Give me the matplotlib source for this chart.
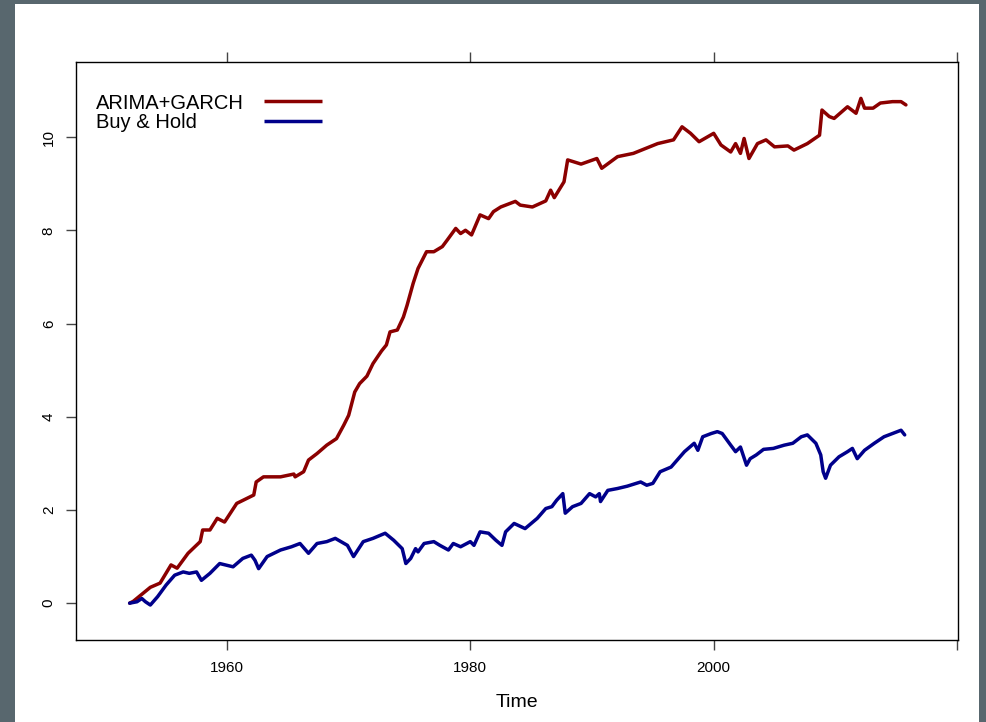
import matplotlib
matplotlib.use("Agg")
import matplotlib.pyplot as plt
from matplotlib.patches import Rectangle

plt.rcParams['font.family'] = ['Liberation Sans', 'DejaVu Sans']

# ARIMA+GARCH cumulative log return
garch_t = [1952.0, 1952.3, 1953.7, 1954.5, 1955.4, 1955.9, 1956.8, 1957.8, 1958.0, 1958.6,
           1959.2, 1959.8, 1960.8, 1962.2, 1962.4, 1963.0, 1964.4, 1965.5, 1965.6, 1966.3,
           1966.7, 1967.4, 1968.2, 1969.0, 1969.6, 1970.0, 1970.5, 1970.9, 1971.5, 1972.0,
           1972.7, 1973.1, 1973.4, 1974.0, 1974.5, 1974.8, 1975.3, 1975.7, 1976.4, 1977.0,
           1977.7, 1978.1, 1978.8, 1979.2, 1979.6, 1980.1, 1980.8, 1981.5, 1981.9, 1982.5,
           1983.7, 1984.1, 1985.1, 1986.2, 1986.6, 1986.9, 1987.7, 1988.0, 1989.1, 1990.4,
           1990.8, 1992.1, 1993.4, 1995.4, 1996.7, 1997.4, 1998.1, 1998.8, 2000.0, 2000.6,
           2001.4, 2001.8, 2002.2, 2002.5, 2002.9, 2003.6, 2004.3, 2005.0, 2006.1, 2006.6,
           2007.7, 2008.7, 2008.9, 2009.5, 2009.9, 2011.0, 2011.7, 2012.1, 2012.4, 2013.1,
           2013.7, 2014.7, 2015.4, 2015.8]
garch_v = [0.00, 0.04, 0.34, 0.43, 0.82, 0.75, 1.07, 1.32, 1.57, 1.57,
           1.82, 1.74, 2.14, 2.32, 2.60, 2.71, 2.71, 2.77, 2.71, 2.82,
           3.07, 3.21, 3.39, 3.53, 3.82, 4.03, 4.53, 4.71, 4.87, 5.14,
           5.41, 5.54, 5.82, 5.86, 6.14, 6.39, 6.86, 7.18, 7.54, 7.54,
           7.65, 7.79, 8.04, 7.93, 8.00, 7.90, 8.33, 8.25, 8.40, 8.50,
           8.62, 8.54, 8.50, 8.63, 8.86, 8.70, 9.04, 9.51, 9.42, 9.54,
           9.33, 9.58, 9.65, 9.86, 9.94, 10.22, 10.08, 9.90, 10.08, 9.83,
           9.68, 9.86, 9.65, 9.97, 9.54, 9.86, 9.94, 9.79, 9.81, 9.72,
           9.86, 10.04, 10.58, 10.44, 10.40, 10.65, 10.51, 10.83, 10.62, 10.62,
           10.73, 10.76, 10.76, 10.69]

# Buy & Hold cumulative log return
bh_t = [1952.0, 1952.6, 1953.0, 1953.3, 1953.7, 1954.3, 1955.0, 1955.7, 1956.4, 1956.9,
        1957.5, 1957.9, 1958.6, 1959.4, 1960.5, 1961.3, 1962.0, 1962.3, 1962.6, 1963.3,
        1964.4, 1965.3, 1966.0, 1966.7, 1967.4, 1968.2, 1968.9, 1969.9, 1970.4, 1971.2,
        1972.0, 1973.0, 1973.7, 1974.4, 1974.7, 1975.1, 1975.5, 1975.7, 1976.2, 1977.0,
        1977.5, 1978.2, 1978.6, 1979.2, 1980.0, 1980.3, 1980.8, 1981.5, 1982.1, 1982.6,
        1982.9, 1983.6, 1984.5, 1985.5, 1986.2, 1986.7, 1987.1, 1987.6, 1987.8, 1988.4,
        1989.1, 1989.8, 1990.3, 1990.6, 1990.7, 1991.3, 1992.1, 1992.9, 1994.0, 1994.5,
        1995.0, 1995.6, 1996.5, 1997.1, 1997.6, 1998.4, 1998.7, 1999.1, 1999.8, 2000.3,
        2000.7, 2001.4, 2001.8, 2002.2, 2002.7, 2003.0, 2003.5, 2004.1, 2004.9, 2005.8,
        2006.5, 2007.2, 2007.7, 2008.4, 2008.8, 2009.0, 2009.2, 2009.6, 2010.3, 2011.0,
        2011.4, 2011.8, 2012.4, 2013.2, 2014.0, 2014.7, 2015.4, 2015.7]
bh_v = [0.00, 0.03, 0.10, 0.03, -0.04, 0.14, 0.39, 0.60, 0.67, 0.64,
        0.67, 0.49, 0.64, 0.85, 0.78, 0.96, 1.03, 0.92, 0.74, 1.00,
        1.14, 1.21, 1.28, 1.07, 1.28, 1.32, 1.39, 1.24, 1.00, 1.32,
        1.39, 1.50, 1.35, 1.17, 0.85, 0.96, 1.17, 1.10, 1.28, 1.32,
        1.24, 1.14, 1.28, 1.21, 1.32, 1.24, 1.53, 1.50, 1.35, 1.24,
        1.53, 1.71, 1.60, 1.82, 2.03, 2.07, 2.21, 2.35, 1.93, 2.07,
        2.14, 2.35, 2.28, 2.35, 2.18, 2.42, 2.46, 2.51, 2.60, 2.53,
        2.57, 2.82, 2.92, 3.10, 3.25, 3.43, 3.28, 3.57, 3.64, 3.68,
        3.64, 3.39, 3.25, 3.35, 2.96, 3.10, 3.18, 3.30, 3.32, 3.39,
        3.43, 3.57, 3.61, 3.43, 3.18, 2.82, 2.68, 2.96, 3.14, 3.25,
        3.32, 3.10, 3.28, 3.43, 3.57, 3.64, 3.71, 3.61]

x_ticks = [1960, 1980, 2000, 2020]
x_labels = ['1960', '1980', '2000', '']
y_ticks = [0, 2, 4, 6, 8, 10]

series = [
    ('ARIMA+GARCH', garch_t, garch_v, '#8b0000'),
    ('Buy & Hold', bh_t, bh_v, '#00008b'),
]

fig = plt.figure(figsize=(9.87, 7.22), dpi=100, facecolor='#58676e')
# white page behind the plot
fig.patches.append(Rectangle((15 / 987, 0), 964 / 987, 718 / 722,
                             transform=fig.transFigure, facecolor='white',
                             edgecolor='none', zorder=-10))

ax = fig.add_axes([0.0765, 0.1136, 0.8946, 0.8005])
ax.set_facecolor('white')

for name, t, v, col in series:
    ax.plot(t, v, color=col, lw=2.5, solid_capstyle='round', solid_joinstyle='round')

ax.set_xlim(1947.55, 2020.12)
ax.set_ylim(-0.79, 11.61)

ax.set_xticks(x_ticks)
ax.set_xticklabels(x_labels, fontsize=11)
ax.set_yticks(y_ticks)
ax.set_yticklabels([str(v) for v in y_ticks], fontsize=11, rotation=90, va='center')
ax.tick_params(axis='x', top=True, direction='out', length=7.2, width=1, color='#444444', pad=8)
ax.tick_params(axis='y', right=False, direction='out', length=7.2, width=1, color='#444444', pad=7)
for s in ax.spines.values():
    s.set_linewidth(1)
    s.set_color('black')

ax.set_xlabel('Time', fontsize=14, labelpad=13.5)

# legend R-style: label on the left, line key on the right
text_y = [0.9187, 0.8858]
key_y = [0.9325, 0.8984]
for (name, t, v, col), ty, ky in zip(series, text_y, key_y):
    ax.text(0.0232, ty, name, transform=ax.transAxes, fontsize=14.5,
            ha='left', va='baseline')
    ax.plot([0.2135, 0.2792], [ky, ky], transform=ax.transAxes, color=col,
            lw=2.5, solid_capstyle='butt', clip_on=False)

fig.savefig('out.png', dpi=100, facecolor=fig.get_facecolor())
